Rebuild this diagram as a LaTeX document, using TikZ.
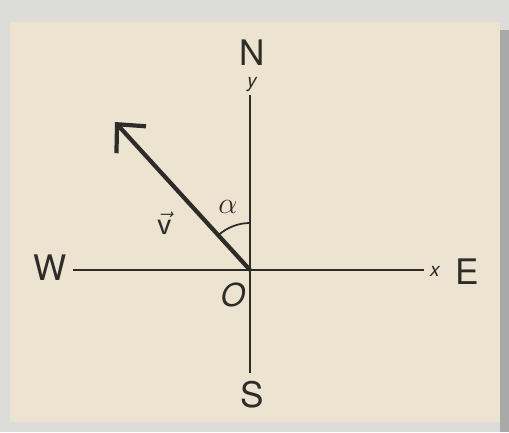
\documentclass[tikz,border=0pt]{standalone}
\usepackage{fontspec}
\setmainfont{TeX Gyre Heros}
\usetikzlibrary{arrows.meta}
\definecolor{backdrop}{HTML}{DCDCD8}
\definecolor{paper}{HTML}{ECE3D1}
\definecolor{rim}{HTML}{A9A9A7}
\definecolor{ink}{HTML}{2E2C28}
\begin{document}
\begin{tikzpicture}[x=0.02cm, y=0.02cm,
  compass/.style={text=ink, inner sep=1pt, font=\fontsize{20}{24}\selectfont},
  axislabel/.style={text=ink, inner sep=0pt, font=\fontsize{11}{13}\selectfont\itshape},
  axis/.style={draw=ink, line width=1.1pt},
  vector/.style={draw=ink, line width=2.4pt, -{Straight Barb[length=4.2mm, width=8mm]}}]
  % sheet of paper
  \fill[backdrop] (0,0) rectangle (509,432);
  \fill[paper] (10,10) rectangle (500,410);
  \fill[rim] (500,0) rectangle (509,402);
  \useasboundingbox (0,0) rectangle (509,432);

  \coordinate (O) at (250,162);
  \coordinate (Wend) at (73,162);
  \coordinate (Eend) at (424,162);
  \coordinate (Nend) at (250,337);
  \coordinate (Send) at (250,59);
  \coordinate (tip) at (115,310);

  \node[compass] (N) at (252,379) {N};
  \node[compass] (S) at (252,37) {S};
  \node[compass] (W) at (50,164) {W};
  \node[compass] (E) at (467,160) {E};
  \node[axislabel] (ylab) at (252,347) {y};
  \node[axislabel] (xlab) at (435,161) {x};
  \node[text=ink, font=\fontsize{18}{20}\selectfont\itshape] (Olab) at (233,137) {O};
  \node[text=ink, font=\fontsize{19}{22}\selectfont] (vlab) at (165,209) {$\vec{\mathsf{v}}$};
  \node[text=ink, font=\fontsize{17}{20}\selectfont] (alab) at (228,225) {$\alpha$};

  \draw[axis] (Wend) -- (Eend);
  \draw[axis] (Send) -- (Nend);
  \draw[vector] (O) -- (tip);
  \draw[ink, line width=1pt] (O) ++(90:47) arc[start angle=90, end angle=132.4, radius=47];
\end{tikzpicture}
\end{document}
